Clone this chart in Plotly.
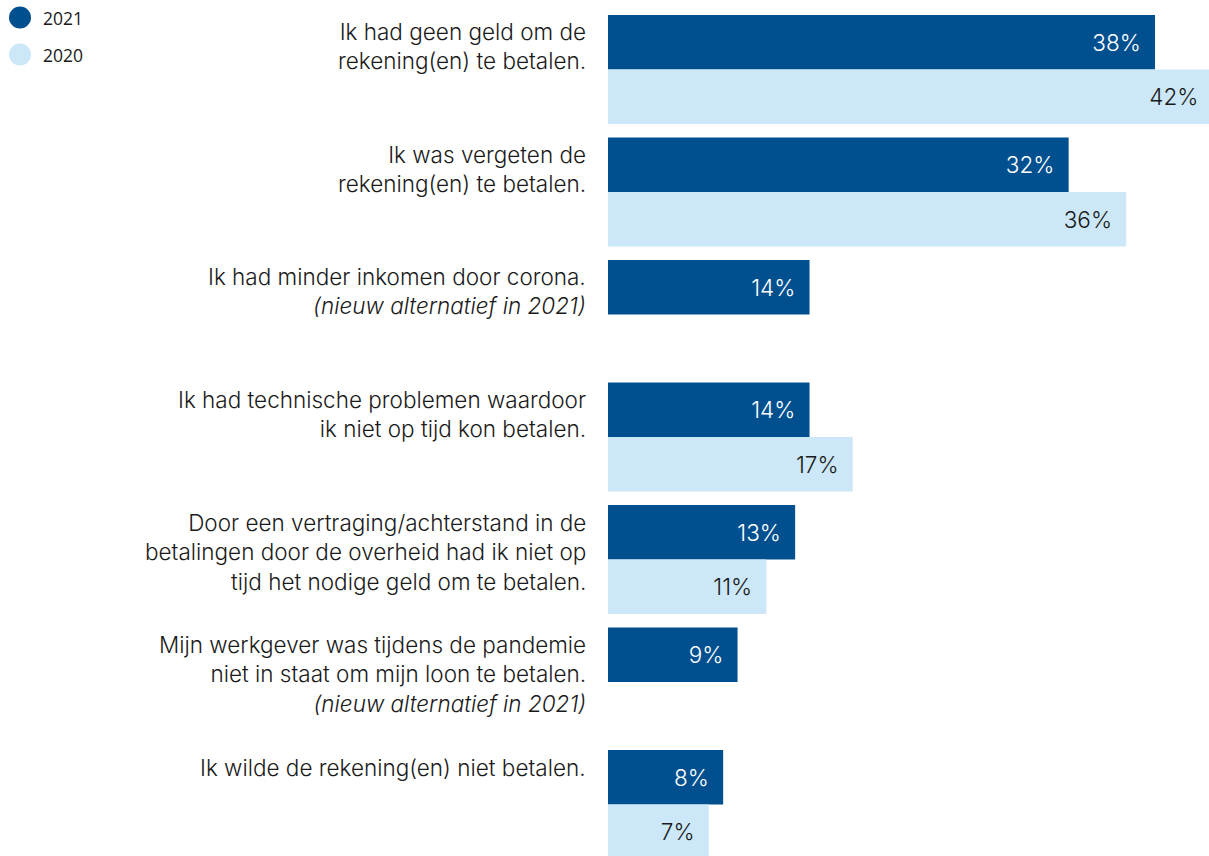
import plotly.graph_objects as go

# Reasons for paying a bill late, share of respondents (%)
reasons = [
    "Ik had geen geld om de<br>rekening(en) te betalen.",
    "Ik was vergeten de<br>rekening(en) te betalen.",
    "Ik had minder inkomen door corona.<br><i>(nieuw alternatief in 2021)</i>",
    "Ik had technische problemen waardoor<br>ik niet op tijd kon betalen.",
    "Door een vertraging/achterstand in de<br>betalingen door de overheid had ik niet op<br>tijd het nodige geld om te betalen.",
    "Mijn werkgever was tijdens de pandemie<br>niet in staat om mijn loon te betalen.<br><i>(nieuw alternatief in 2021)</i>",
    "Ik wilde de rekening(en) niet betalen.",
]
categories = [f"r{i}" for i in range(len(reasons))]
values_2021 = [38, 32, 14, 14, 13, 9, 8]
values_2020 = [42, 36, None, 17, 11, None, 7]
series_names = ["2021", "2020"]

DARK = "#00508F"
LIGHT = "#CCE8F8"
TEXT = "#1A1A1A"
FONT = "Inter, Lato, sans-serif"
WEIGHT = 350


def pct_labels(vals):
    return ["" if v is None else f"{v}%\u2002" for v in vals]


fig = go.Figure()
fig.add_trace(go.Bar(
    name=series_names[0], y=categories, x=values_2021, orientation="h",
    marker=dict(color=DARK, line=dict(width=0)),
    text=pct_labels(values_2021), textposition="inside", insidetextanchor="end",
    textfont=dict(color="white", size=22.5, family=FONT, weight=WEIGHT),
    hoverinfo="skip",
))
fig.add_trace(go.Bar(
    name=series_names[1], y=categories, x=values_2020, orientation="h",
    marker=dict(color=LIGHT, line=dict(width=0)),
    text=pct_labels(values_2020), textposition="inside", insidetextanchor="end",
    textfont=dict(color=TEXT, size=22.5, family=FONT, weight=WEIGHT),
    hoverinfo="skip",
))

annotations = []
for cat, label in zip(categories, reasons):
    annotations.append(dict(
        xref="paper", x=0, xanchor="right", xshift=-20,
        yref="y", y=cat, yanchor="top", yshift=53,
        text=label, align="right", showarrow=False,
        font=dict(size=22.5, color=TEXT, family=FONT, weight=WEIGHT),
    ))

# legend drawn as dots with labels in the top-left corner
shapes = []
for i, (name, col) in enumerate(zip(series_names, [DARK, LIGHT])):
    cy = 17.5 + 37 * i
    shapes.append(dict(
        type="circle", xref="paper", yref="paper",
        xsizemode="pixel", ysizemode="pixel", xanchor=0, yanchor=1,
        x0=-599, x1=-577, y0=-cy - 11, y1=-cy + 11,
        fillcolor=col, line=dict(width=0),
    ))
    annotations.append(dict(
        xref="paper", x=0, xanchor="left", xshift=-567,
        yref="paper", y=1, yanchor="middle", yshift=-cy,
        text=name, showarrow=False,
        font=dict(size=17.5, color=TEXT, family="Open Sans, sans-serif"),
    ))

fig.update_layout(
    width=1209, height=856,
    margin=dict(l=608, r=0, t=0, b=0),
    paper_bgcolor="white", plot_bgcolor="white",
    barmode="group", bargap=0.11, bargroupgap=0,
    showlegend=False,
    xaxis=dict(range=[0, 41.75], visible=False, fixedrange=True),
    yaxis=dict(type="category", categoryorder="array", categoryarray=categories,
               range=[6.42, -0.567], visible=False, fixedrange=True),
    uniformtext=dict(mode="show", minsize=10),
    annotations=annotations, shapes=shapes,
)

fig.write_html("out.html", config={"displayModeBar": False})
